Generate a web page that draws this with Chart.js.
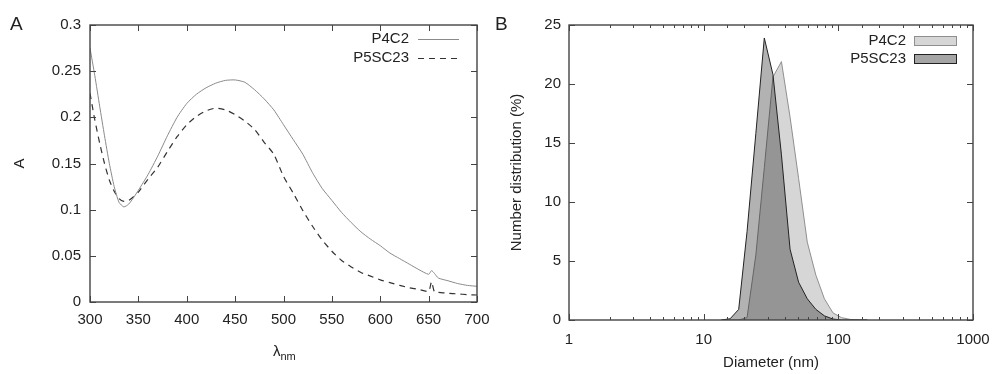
<!DOCTYPE html>
<html>
<head>
<meta charset="utf-8">
<script src="https://cdn.jsdelivr.net/npm/chart.js@4.4.1/dist/chart.umd.min.js"></script>
<style>
  body { margin: 0; background: #fff; width: 993px; height: 374px; position: relative; overflow: hidden;
         font-family: "Liberation Sans", Arial, sans-serif; color: #222; }
  canvas { position: absolute; top: 0; }
  #chartA { left: 0; }
  #chartB { left: 496px; }
  .panel { position: absolute; font-size: 19px; line-height: 1; top: 14px; }
  .xlab { position: absolute; font-size: 15px; line-height: 1; left: 273px; top: 343px; }
  .xlab span { font-size: 11px; position: relative; top: 4px; }
</style>
</head>
<body>
<canvas id="chartA" width="496" height="374"></canvas>
<canvas id="chartB" width="497" height="374"></canvas>
<div class="panel" style="left:10px">A</div>
<div class="panel" style="left:495px">B</div>
<div class="xlab">λ<span>nm</span></div>
<script>
// panel A: absorbance spectra
const wavelength = [300, 305, 310, 315, 320, 325, 330, 335, 340, 345, 350, 360, 370, 380, 390, 400, 410, 420, 430, 440,
  450, 460, 470, 480, 490, 500, 510, 520, 530, 540, 550, 560, 570, 580, 590, 600, 610, 620, 630, 640,
  650, 653, 656, 660, 670, 680, 690, 700];
const absP4C2 = [0.275, 0.245, 0.212, 0.18, 0.15, 0.125, 0.108, 0.103, 0.106, 0.113, 0.121, 0.138, 0.158, 0.18, 0.2, 0.215, 0.225, 0.232, 0.237, 0.24,
  0.2405, 0.238, 0.23, 0.22, 0.208, 0.192, 0.176, 0.16, 0.14, 0.123, 0.11, 0.097, 0.086, 0.076, 0.068, 0.061, 0.053, 0.047, 0.041, 0.035,
  0.030, 0.034, 0.031, 0.026, 0.023, 0.020, 0.018, 0.017];
const absP5SC23 = [0.226, 0.197, 0.172, 0.15, 0.132, 0.12, 0.112, 0.109, 0.11, 0.114, 0.119, 0.133, 0.146, 0.163, 0.179, 0.192, 0.201, 0.207, 0.21, 0.208,
  0.203, 0.196, 0.187, 0.173, 0.16, 0.136, 0.118, 0.099, 0.082, 0.067, 0.055, 0.045, 0.038, 0.032, 0.028, 0.024, 0.021, 0.018, 0.0155, 0.0135,
  0.0115, 0.022, 0.011, 0.0105, 0.0095, 0.0088, 0.008, 0.0076];

// panel B: DLS number distribution
const diameter = [13.5, 15.7, 18.2, 21.0, 24.4, 28.2, 32.7, 37.8, 43.8, 50.7, 58.8, 68.1, 78.8, 91.3, 105.7, 122.4, 141.8, 164.2];
const numP4C2 = [0, 0, 0, 0.2, 5.5, 12.9, 20.6, 21.9, 17.2, 12.0, 6.6, 3.8, 1.8, 0.6, 0.2, 0.05, 0, 0];
const numP5SC23 = [0, 0.1, 0.9, 7.5, 15.8, 23.9, 20.8, 14.0, 6.0, 3.2, 1.8, 0.9, 0.35, 0.08, 0, 0, 0, 0];
const logLabels = [1, 10, 100, 1000];

Chart.defaults.font.family = '"Liberation Sans", Arial, sans-serif';
Chart.defaults.font.size = 15;
Chart.defaults.color = '#222';

const pairs = (xs, ys) => xs.map((x, i) => ({ x: x, y: ys[i] }));

// frame with inward ticks on all four sides, gnuplot style
const frame = {
  id: 'frame',
  afterDraw(chart, args, opts) {
    const { ctx, chartArea: a, scales } = chart;
    ctx.save();
    ctx.strokeStyle = '#444';
    ctx.lineWidth = 1;
    ctx.beginPath();
    scales.x.ticks.forEach((t, i) => {
      const px = Math.round(scales.x.getPixelForTick(i)) + 0.5;
      let len = 6;
      if (opts.logX && Math.abs(Math.log10(t.value) % 1) > 1e-6) len = 3;
      ctx.moveTo(px, a.bottom); ctx.lineTo(px, a.bottom - len);
      ctx.moveTo(px, a.top); ctx.lineTo(px, a.top + len);
    });
    scales.y.ticks.forEach((t, i) => {
      const py = Math.round(scales.y.getPixelForTick(i)) + 0.5;
      ctx.moveTo(a.left, py); ctx.lineTo(a.left + 6, py);
      ctx.moveTo(a.right, py); ctx.lineTo(a.right - 6, py);
    });
    ctx.stroke();
    ctx.lineWidth = 1.4;
    ctx.strokeRect(a.left, a.top, a.right - a.left, a.bottom - a.top);
    ctx.restore();
  }
};

// key in the top right corner: label then sample
const key = {
  id: 'key',
  afterDraw(chart, args, o) {
    const ctx = chart.ctx;
    ctx.save();
    chart.data.datasets.forEach((ds, i) => {
      const y = o.y + i * o.gap;
      ctx.font = '15px "Liberation Sans", Arial, sans-serif';
      ctx.fillStyle = '#222';
      ctx.textAlign = 'right';
      ctx.textBaseline = 'middle';
      ctx.fillText(ds.label, o.textX, y);
      ctx.strokeStyle = ds.borderColor;
      ctx.lineWidth = ds.borderWidth;
      if (o.box) {
        ctx.fillStyle = ds.keyColor || ds.backgroundColor;
        ctx.fillRect(o.sampleX, y - 4.5, o.sampleW, 9);
        ctx.strokeRect(o.sampleX + 0.5, y - 4, o.sampleW, 9);
      } else {
        ctx.setLineDash(ds.borderDash || []);
        ctx.beginPath();
        ctx.moveTo(o.sampleX, Math.round(y) + 0.5);
        ctx.lineTo(o.sampleX + o.sampleW, Math.round(y) + 0.5);
        ctx.stroke();
        ctx.setLineDash([]);
      }
    });
    ctx.restore();
  }
};

new Chart(document.getElementById('chartA'), {
  type: 'line',
  data: {
    datasets: [
      { label: 'P4C2', data: pairs(wavelength, absP4C2), borderColor: '#8a8a8a', borderWidth: 1,
        pointRadius: 0, tension: 0.2 },
      { label: 'P5SC23', data: pairs(wavelength, absP5SC23), borderColor: '#333', borderWidth: 1.2,
        borderDash: [6, 5], pointRadius: 0, tension: 0.2 }
    ]
  },
  options: {
    responsive: false,
    animation: false,
    layout: { padding: { top: 25, right: 19, left: 0, bottom: 0 } },
    plugins: {
      legend: { display: false },
      tooltip: { enabled: false },
      key: { textX: 409, sampleX: 418, sampleW: 41, y: 39, gap: 18.5, box: false },
      frame: { logX: false }
    },
    scales: {
      x: {
        type: 'linear', min: 300, max: 700,
        grid: { display: false }, border: { display: false },
        ticks: { stepSize: 50, padding: 1, maxRotation: 0 },
        afterFit(s) { s.height = 72; }
      },
      y: {
        min: 0, max: 0.3,
        grid: { display: false }, border: { display: false },
        ticks: { stepSize: 0.05, padding: 1, callback: v => String(+v.toFixed(2)) },
        title: { display: true, text: 'A', padding: { top: 11, bottom: 0 } },
        afterFit(s) { s.width = 90; }
      }
    }
  },
  plugins: [frame, key]
});

new Chart(document.getElementById('chartB'), {
  type: 'line',
  data: {
    datasets: [
      { label: 'P4C2', data: pairs(diameter, numP4C2), borderColor: '#8f8f8f', borderWidth: 1,
        backgroundColor: 'rgb(214,214,214)', fill: 'origin', pointRadius: 0, tension: 0, order: 1 },
      { label: 'P5SC23', data: pairs(diameter, numP5SC23), borderColor: '#222', borderWidth: 1,
        backgroundColor: 'rgba(0,0,0,0.3)', keyColor: 'rgb(165,165,165)', fill: 'origin', pointRadius: 0, tension: 0, order: 0 }
    ]
  },
  options: {
    responsive: false,
    animation: false,
    layout: { padding: { top: 25, right: 20, left: 0, bottom: 0 } },
    plugins: {
      legend: { display: false },
      tooltip: { enabled: false },
      key: { textX: 410, sampleX: 418, sampleW: 42, y: 40.5, gap: 18, box: true },
      frame: { logX: true }
    },
    scales: {
      x: {
        type: 'logarithmic', min: 1, max: 1000,
        grid: { display: false }, border: { display: false },
        ticks: { autoSkip: false, maxRotation: 0, padding: 3,
                 callback: v => logLabels.includes(v) ? String(v) : '' },
        title: { display: true, text: 'Diameter (nm)', padding: { top: 0, bottom: 2 } },
        afterFit(s) { s.height = 54; }
      },
      y: {
        min: 0, max: 25,
        grid: { display: false }, border: { display: false },
        ticks: { stepSize: 5, padding: 0 },
        title: { display: true, text: 'Number distribution (%)', padding: { top: 12, bottom: 0 } },
        afterFit(s) { s.width = 73; }
      }
    }
  },
  plugins: [frame, key]
});
</script>
</body>
</html>
